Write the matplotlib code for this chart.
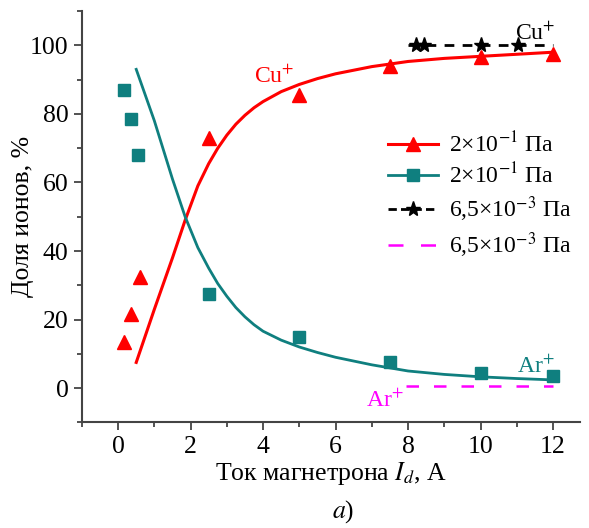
import numpy as np
import matplotlib
matplotlib.use("Agg")
import matplotlib.pyplot as plt
from matplotlib.ticker import MultipleLocator

plt.rcParams['font.family'] = ['Liberation Serif', 'DejaVu Serif']
plt.rcParams['mathtext.fontset'] = 'stix'

# Cu+ и Ar+ при 2e-1 Па (точки)
cu_x = [0.15, 0.35, 0.6, 2.5, 5.0, 7.5, 10.0, 12.0]
cu_y = [13.5, 21.5, 32.5, 73.0, 85.5, 94.0, 96.5, 97.5]
ar_x = [0.15, 0.35, 0.55, 2.5, 5.0, 7.5, 10.0, 12.0]
ar_y = [87.0, 78.5, 68.0, 27.5, 15.0, 7.5, 4.5, 3.5]

# аппроксимирующие кривые
cu_fit_x = [0.5, 1.0, 1.5, 1.85, 2.2, 2.5, 2.75, 3.0, 3.25, 3.5, 3.75, 4.0, 4.5, 5.0, 5.5, 6.0, 7.0, 8.0, 9.0, 10.0, 11.0, 12.0]
cu_fit_y = [7.5, 23.0, 38.0, 49.0, 59.0, 65.5, 70.0, 73.8, 77.0, 79.6, 81.8, 83.6, 86.5, 88.6, 90.3, 91.7, 93.8, 95.3, 96.2, 96.8, 97.4, 98.0]
ar_fit_x = [0.5, 1.0, 1.5, 1.85, 2.2, 2.5, 2.75, 3.0, 3.25, 3.5, 3.75, 4.0, 4.5, 5.0, 5.5, 6.0, 7.0, 8.0, 9.0, 10.0, 11.0, 12.0]
ar_fit_y = [93.0, 78.0, 61.0, 50.0, 41.0, 35.0, 30.5, 26.8, 23.5, 20.8, 18.5, 16.6, 14.0, 12.0, 10.4, 9.0, 6.8, 5.0, 4.0, 3.3, 2.8, 2.4]

# 6,5e-3 Па
cu_low_x = [8.0, 12.0]
cu_low_y = [100, 100]
star_x = [8.23, 8.44, 10.0, 11.03]
star_y = [100, 100, 100, 100]
ar_low_x = [7.95, 12.0]
ar_low_y = [0.5, 0.5]

red = '#ff0000'
teal = '#0f7f7f'
magenta = '#ff00ff'

fig = plt.figure(figsize=(5.89, 5.28), dpi=100)
ax = fig.add_axes([0.139, 0.20, 0.846, 0.779])

ax.plot(cu_fit_x, cu_fit_y, '-', color=red, lw=2.2)
ax.plot(cu_x, cu_y, '^', color=red, ms=10.5, ls='none')
ax.plot(ar_fit_x, ar_fit_y, '-', color=teal, lw=2.0)
ax.plot(ar_x, ar_y, 's', color=teal, ms=8, ls='none')
ax.plot(cu_low_x, cu_low_y, '--', color='black', lw=2.0, dashes=(3.5, 3))
ax.plot(star_x, star_y, '*', color='black', ms=11, ls='none')
ax.plot(ar_low_x, ar_low_y, '--', color=magenta, lw=1.8, dashes=(5, 6))

# легенда
h1, = ax.plot([], [], '-^', color=red, lw=2.2, ms=10.5)
h2, = ax.plot([], [], '-s', color=teal, lw=2.0, ms=8)
h3, = ax.plot([], [], '--*', color='black', lw=2.0, ms=11, dashes=(3, 1.5))
h4, = ax.plot([], [], '--', color=magenta, lw=1.8, dashes=(6, 7))
ax.legend([h1, h2, h3, h4],
          ['2×10$^{-1}$ Па', '2×10$^{-1}$ Па', '6,5×10$^{-3}$ Па', '6,5×10$^{-3}$ Па'],
          loc='upper left', bbox_to_anchor=(0.572, 0.758), frameon=False,
          fontsize=17, handlelength=2.1, labelspacing=0.25, handletextpad=0.47)

ax.text(3.75, 89, 'Cu$^{+}$', color=red, fontsize=17)
ax.text(10.95, 101.5, 'Cu$^{+}$', color='black', fontsize=17)
ax.text(11.0, 4.5, 'Ar$^{+}$', color=teal, fontsize=17)
ax.text(6.85, -5.5, 'Ar$^{+}$', color=magenta, fontsize=17)

ax.set_xlim(-1, 12.75)
ax.set_ylim(-10, 110)
ax.xaxis.set_major_locator(MultipleLocator(2))
ax.xaxis.set_minor_locator(MultipleLocator(1))
ax.yaxis.set_major_locator(MultipleLocator(20))
ax.yaxis.set_minor_locator(MultipleLocator(10))
ax.spines['top'].set_visible(False)
ax.spines['right'].set_visible(False)
for s in ['left', 'bottom']:
    ax.spines[s].set_linewidth(1.5)
    ax.spines[s].set_color('#444444')
ax.tick_params(which='major', direction='out', length=6, width=1.3, labelsize=18.5, color='#444444')
ax.tick_params(which='minor', direction='out', length=3.5, width=1.3, color='#444444')

ax.set_xlabel('Ток магнетрона $I_d$, А', fontsize=18.5, labelpad=2)
ax.set_ylabel('Доля ионов, %', fontsize=18.5)
ax.yaxis.set_label_coords(-0.096, 0.5)
fig.text(0.583, 0.02, '$a$)', fontsize=18.5, ha='center')

fig.savefig('out.png', dpi=100)
